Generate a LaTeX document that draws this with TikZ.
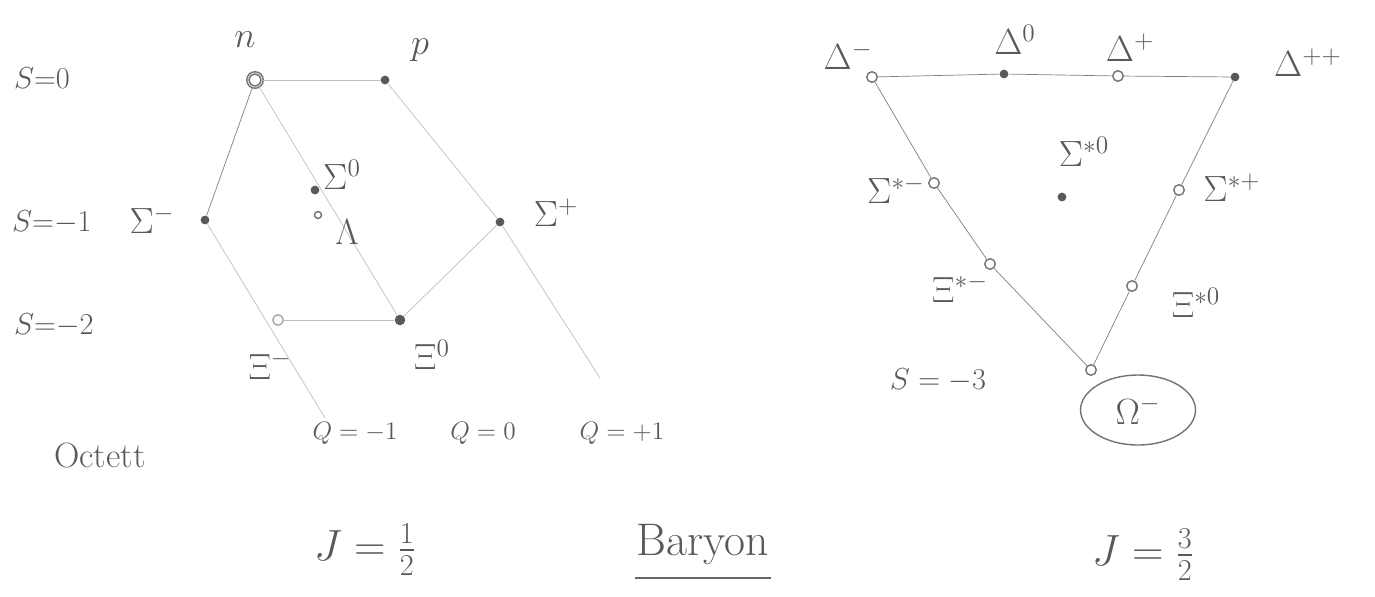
\documentclass[tikz,border=0pt]{standalone}
\usepackage{amsmath}
\usetikzlibrary{shapes.geometric}

\begin{document}
\begin{tikzpicture}[
    x=0.02cm, y=-0.02cm,
    pdot/.style ={circle, fill=black!65, inner sep=0pt, minimum size=5pt},
    podot/.style={circle, draw=black!55, thick, inner sep=0pt, minimum size=6pt},
    faint/.style={draw=black!25, thin},
    edge/.style ={draw=black!50, thin},
    lab/.style  ={text=black!65, inner sep=1pt, font=\fontsize{20}{24}\selectfont},
    qlab/.style ={lab, font=\fontsize{15}{18}\selectfont},
    slab/.style ={lab, anchor=west, font=\fontsize{18}{22}\selectfont},
    big/.style  ={lab, font=\fontsize{26}{30}\selectfont},
]
\useasboundingbox (0,0) rectangle (1375,596);

% octet J=1/2
\node[podot, double=black!20, minimum size=8pt] (n) at (255,80)  {};
\node[pdot]                     (p)   at (385,80)  {};
\node[pdot]                     (Sm)  at (205,220) {};
\node[pdot]                     (Sz)  at (315,190) {};
\node[podot, minimum size=4pt]  (L)   at (318,215) {};
\node[pdot]                     (Sp)  at (500,222) {};
\node[podot, draw=black!35]     (Xm)  at (278,320) {};
\node[pdot, minimum size=6pt]   (Xz)  at (400,320) {};
\coordinate (qm) at (325,418);
\coordinate (qp) at (600,378);

\foreach \a/\b in {n/p, Xm/Xz, n/Xz, p/Sp, Sp/Xz, Sp/qp, Sm/qm}
    \draw[faint] (\a) -- (\b);
\draw[edge] (n) -- (Sm);

\node[lab] (nl)  at (245,40)  {$n$};
\node[lab] (pl)  at (420,50)  {$p$};
\node[slab] (s0) at (12,78)   {$S{=}0$};
\node[slab] (s1) at (10,222)  {$S{=}{-}1$};
\node[slab] (s2) at (12,325)  {$S{=}{-}2$};
\node[lab] (Sml) at (152,220) {$\Sigma^-$};
\node[lab] (Szl) at (342,175) {$\Sigma^0$};
\node[lab] (Ll)  at (347,232) {$\Lambda$};
\node[lab] (Spl) at (556,213) {$\Sigma^+$};
\node[lab] (Xml) at (270,365) {$\Xi^-$};
\node[lab] (Xzl) at (432,355) {$\Xi^0$};
\node[qlab] (q1) at (355,433) {$Q=-1$};
\node[qlab] (q2) at (483,433) {$Q=0$};
\node[qlab] (q3) at (622,433) {$Q=+1$};
\node[lab] (oct) at (100,455) {Octett};
\node[big] (j1)  at (365,550) {$J=\tfrac{1}{2}$};

\node[big] (bar) at (703,545) {Baryon};
\draw[black!60, thick] ([yshift=-6pt]bar.south west) -- ([yshift=-6pt]bar.south east);

% decuplet J=3/2
\node[podot] (Dm)  at (872,77)   {};
\node[pdot]  (Dz)  at (1004,74)  {};
\node[podot] (Dp)  at (1118,76)  {};
\node[pdot]  (Dpp) at (1235,77)  {};
\node[podot] (Ssm) at (934,183)  {};
\node[pdot]  (Ssz) at (1062,197) {};
\node[podot] (Ssp) at (1179,190) {};
\node[podot] (Xsm) at (990,264)  {};
\node[podot] (Xsz) at (1132,286) {};
\node[podot] (Om)  at (1091,370) {};

\foreach \a/\b in {Dm/Dz, Dz/Dp, Dp/Dpp, Dm/Ssm, Ssm/Xsm, Xsm/Om, Dpp/Ssp, Ssp/Xsz, Xsz/Om}
    \draw[edge] (\a) -- (\b);

\node[lab] (Dml)  at (848,56)   {$\Delta^-$};
\node[lab] (Dzl)  at (1015,40)  {$\Delta^0$};
\node[lab] (Dpl)  at (1130,48)  {$\Delta^+$};
\node[lab] (Dppl) at (1308,63)  {$\Delta^{++}$};
\node[lab] (Ssml) at (896,190)  {$\Sigma^{*-}$};
\node[lab] (Sszl) at (1084,152) {$\Sigma^{*0}$};
\node[lab] (Sspl) at (1232,188) {$\Sigma^{*+}$};
\node[lab] (Xsml) at (960,288)  {$\Xi^{*-}$};
\node[lab] (Xszl) at (1196,303) {$\Xi^{*0}$};
\node[qlab, font=\fontsize{18}{22}\selectfont] (s3) at (938,380) {$S=-3$};
\node[lab, ellipse, draw=black!55, thick, minimum width=2.3cm, minimum height=1.4cm] (Oml) at (1138,410) {$\Omega^-$};
\node[big] (j3)  at (1143,555) {$J=\tfrac{3}{2}$};
\end{tikzpicture}
\end{document}
